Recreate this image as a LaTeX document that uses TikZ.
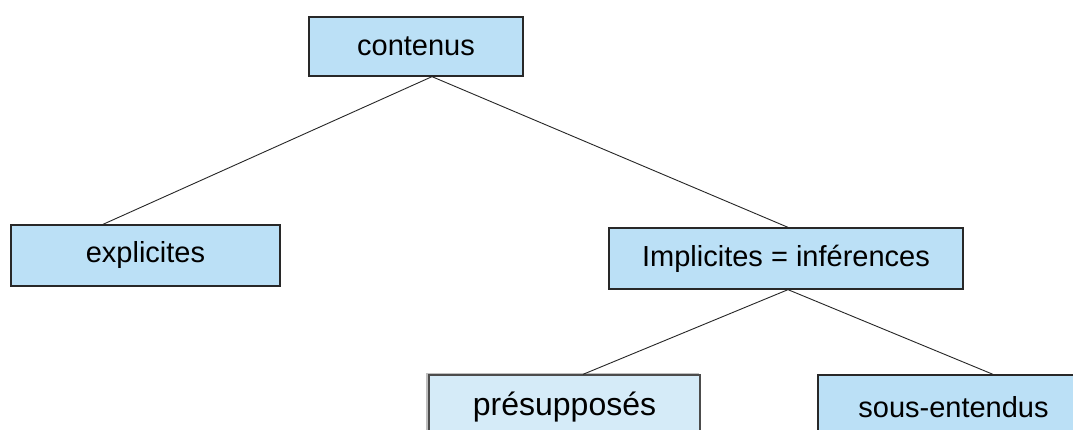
\documentclass[tikz,border=0pt]{standalone}
\usepackage{fontspec}
\setmainfont{Liberation Sans}
\definecolor{boxblue}{RGB}{187,224,246}
\definecolor{boxlight}{RGB}{213,235,248}
\definecolor{edgegray}{RGB}{40,40,40}
\tikzset{
  tbox/.style={draw=edgegray, line width=1.3pt, fill=boxblue, inner sep=0pt,
    font=\fontsize{29}{29}\selectfont, align=center},
  link/.style={draw=black!85, line width=0.9pt}
}
\begin{document}
\begin{tikzpicture}[x=1pt,y=-1pt]
\useasboundingbox (0,0) rectangle (1073,430);
\clip (0,0) rectangle (1073,430);
\fill[white] (0,0) rectangle (1073,430);
\node[tbox, minimum width=214pt, minimum height=59pt] (contenus) at (416,46.5) {contenus};
\node[tbox, minimum width=269pt, minimum height=61pt] (expl) at (145.5,255.5) {explicites};
\node[tbox, minimum width=354pt, minimum height=61pt] (impl) at (786,258.5) {Implicites = inférences};
\node[tbox, fill=boxlight, draw=black!70, minimum width=271pt, minimum height=64pt,
  font=\fontsize{32}{32}\selectfont,
  preaction={draw=black!25, line width=1.2pt, transform canvas={xshift=-2pt, yshift=1pt}}]
  (presup) at (564.5,407) {présupposés};
\node[tbox, minimum width=271pt, minimum height=64pt] (sous) at (953.5,407) {sous-entendus};
\draw[link] ([xshift=16pt]contenus.south) -- ([xshift=-42.5pt]expl.north);
\draw[link] ([xshift=16pt]contenus.south) -- ([xshift=2pt]impl.north);
\draw[link] ([xshift=2pt]impl.south) -- ([xshift=18.5pt]presup.north);
\draw[link] ([xshift=2pt]impl.south) -- ([xshift=39.5pt]sous.north);
\end{tikzpicture}
\end{document}
